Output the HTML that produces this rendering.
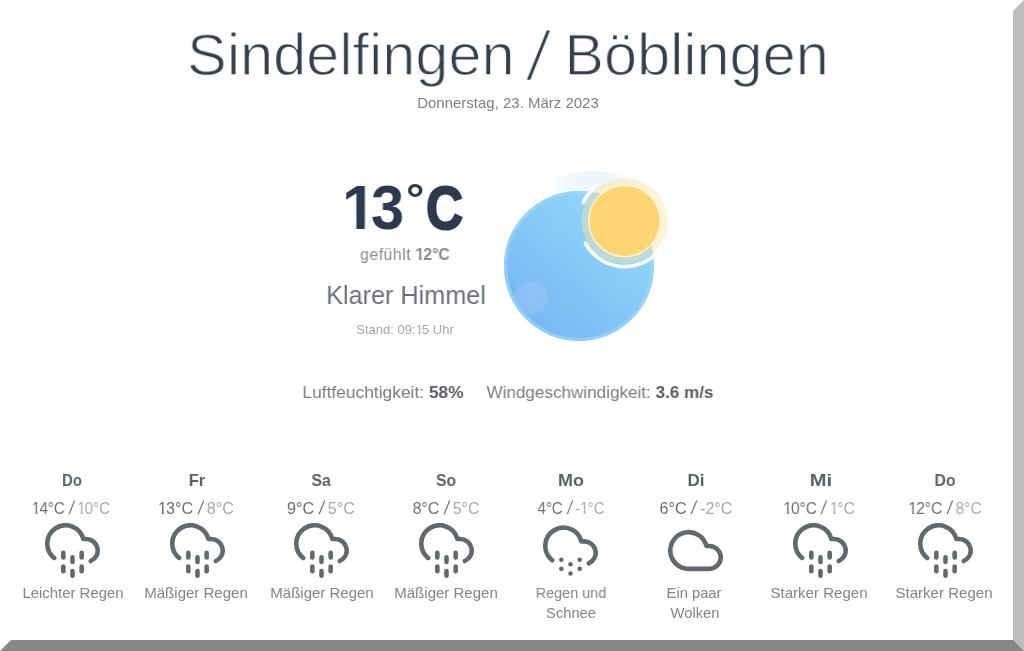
<!DOCTYPE html>
<html lang="de">
<head>
<meta charset="utf-8">
<title>Wetter Sindelfingen / Böblingen</title>
<style>
html,body{margin:0;padding:0;background:#fff;}
body{width:1024px;height:651px;position:relative;overflow:hidden;font-family:"Liberation Sans",Arial,sans-serif;}
.frame{position:absolute;left:0;top:0;width:1024px;height:651px;box-sizing:border-box;border-style:solid;border-width:11px;border-color:#fff #bdbdbd #878787 #fff;}
.t{will-change:transform;position:absolute;white-space:nowrap;text-align:center;line-height:1;width:700px;transform-origin:50% 50%;}
.title{color:#333e4f;-webkit-text-stroke:1.3px #fff;}
.sl{display:inline-block;transform-origin:50% 23px;transform:scaleY(1.16) skewX(-11deg);}
.tmp .sl{transform-origin:50% 10.4px;transform:scaleY(1.16) skewX(-11.6deg);}
.date{color:#808080;}
.bigg{position:absolute;white-space:nowrap;line-height:1;font-weight:bold;color:#2c3a4f;transform-origin:0 0;will-change:transform;}
.feel{color:#8a8a8a;}
.cond{color:#6b7079;}
.stand{color:#a8a8a8;}
.hum{color:#777c83;}
.hum b{color:#585d65;}
.day{font-weight:bold;color:#5b6068;}
.tmp{color:#6d6d6d;}
.tmp .lo{color:#a8a8a8;}
.desc{color:#848484;}
.n1{letter-spacing:-1.0px;display:inline-block;}
.tmp .n1{clip-path:polygon(0 0,100% 0,100% 11px,5.75px 11px,5.75px 100%,3.7px 100%,3.7px 11px,0 11px);}
.stand .n1{clip-path:polygon(0 0,100% 0,100% 10px,4.7px 10px,4.7px 100%,3.0px 100%,3.0px 10px,0 10px);}
.feel .n1{clip-path:polygon(0 0,100% 0,100% 11px,6.2px 11px,6.2px 100%,3.45px 100%,3.45px 11px,0 11px);}
.ic{position:absolute;fill:none;stroke:#63686f;stroke-linecap:round;stroke-linejoin:round;}
</style>
</head>
<body>
<div class="frame"></div>
<div class="t title" style="left:157.90px;top:22.00px;font-size:63.4px;transform:scale(0.9386,0.9400);transform-origin:50% 53px;">Sindelfingen <span class="sl">/</span> Böblingen</div>
<div class="t date" style="left:157.70px;top:96.00px;font-size:14.5px;transform:scaleX(1.0334);">Donnerstag, 23. März 2023</div>
<div class="bigg" style="left:341.69px;top:176.00px;font-size:63.20px;transform:scaleX(0.9740);clip-path:polygon(0px 0px,37.03px 0px,37.03px 46px,23.42px 46px,23.42px 63.20px,14.75px 63.20px,14.75px 46px,0px 46px);">1</div><div class="bigg" style="left:371.13px;top:176.00px;font-size:63.00px;transform:scaleX(0.9460);">3</div><div class="bigg" style="left:405.98px;top:178.00px;font-size:42.60px;transform:scaleX(1.0800);">°</div><div class="bigg" style="left:425.50px;top:178.00px;font-size:60.30px;transform:scaleX(0.8500);-webkit-text-stroke:2px #2c3a4f;">C</div>
<div class="t feel" style="left:54.50px;top:247.00px;font-size:16.0px;transform:scaleX(0.9880);"><span style="letter-spacing:0.5px">gefühlt</span> <b><span class="n1">1</span>2°C</b></div>
<div class="t cond" style="left:55.60px;top:282.00px;font-size:26.0px;transform:scaleX(0.9703);">Klarer Himmel</div>
<div class="t stand" style="left:54.80px;top:323.00px;font-size:13.0px;transform:scaleX(1.0028);">Stand: 09:<span class="n1">1</span>5 Uhr</div>
<svg style="position:absolute;left:490px;top:160px;" width="190" height="190" viewBox="490 160 190 190">
  <defs>
    <linearGradient id="bg" x1="0.15" y1="0.9" x2="0.85" y2="0.1">
      <stop offset="0" stop-color="#78b5f4"/>
      <stop offset="0.5" stop-color="#86c8f7"/>
      <stop offset="1" stop-color="#95dafa"/>
    </linearGradient>
    <radialGradient id="glow" cx="0.5" cy="0.5" r="0.5">
      <stop offset="0" stop-color="#aac8f8" stop-opacity="0.42"/>
      <stop offset="0.85" stop-color="#aac8f8" stop-opacity="0.36"/>
      <stop offset="1" stop-color="#aac8f8" stop-opacity="0"/>
    </radialGradient>
    <radialGradient id="haze" gradientUnits="userSpaceOnUse" cx="594" cy="177" r="46">
      <stop offset="0" stop-color="#ecf6fc" stop-opacity="1"/>
      <stop offset="0.6" stop-color="#ecf6fc" stop-opacity="0.7"/>
      <stop offset="1" stop-color="#ecf6fc" stop-opacity="0"/>
    </radialGradient>
  </defs>
  <circle cx="592" cy="268" r="97" fill="url(#haze)"/>
  <circle cx="579" cy="266" r="75" fill="url(#bg)"/>
  <circle cx="579" cy="266" r="73.4" fill="none" stroke="#98d8fa" stroke-width="3.2" opacity="0.7"/>
  <circle cx="531" cy="298" r="18" fill="url(#glow)"/>
  <circle cx="624.5" cy="221" r="43" fill="#f6e6a8" opacity="0.45"/>
  <path d="M 583.3 202.6 A 45 45 0 0 1 593.2 188.6" fill="none" stroke="#fff" stroke-width="3.6" stroke-linecap="round" opacity="0.92"/>
  <path d="M 585.5 243.5 A 45 45 0 0 0 658 252" fill="none" stroke="#fff" stroke-width="3.8" stroke-linecap="round" opacity="0.92"/>
  <circle cx="624.5" cy="221" r="36.5" fill="#fff4d2"/>
  <circle cx="624.5" cy="221" r="35" fill="#fdd673"/>
</svg>
<div class="t hum" style="left:33.10px;top:384.00px;font-size:17.4px;transform:scaleX(0.9978);">Luftfeuchtigkeit: <b>58%</b></div>
<div class="t hum" style="left:249.50px;top:384.00px;font-size:17.4px;transform:scaleX(0.9829);">Windgeschwindigkeit: <b>3.6 m/s</b></div>
<div class="t day" style="left:-277.55px;top:472.00px;font-size:16.5px;transform:scaleX(0.8985);">Do</div>
<div class="t tmp" style="left:-278.70px;top:501.00px;font-size:16.0px;transform:scaleX(0.9393);"><span class="n1">1</span>4°C <span class="sl">/</span> <span class="lo"><span class="n1">1</span>0°C</span></div>
<svg class="ic" style="left:44.90px;top:523.10px;" width="55.0" height="55.0" viewBox="0 0 24 24" stroke-width="2.0"><line x1="8" y1="19" x2="8" y2="21"/><line x1="8" y1="13" x2="8" y2="15"/><line x1="16" y1="19" x2="16" y2="21"/><line x1="16" y1="13" x2="16" y2="15"/><line x1="12" y1="21" x2="12" y2="23"/><line x1="12" y1="15" x2="12" y2="17"/><path d="M20 16.58A5 5 0 0 0 18 7h-1.26A8 8 0 1 0 4 15.25"/></svg>
<div class="t desc" style="left:-277.45px;top:586.00px;font-size:14.5px;transform:scaleX(1.0274);">Leichter Regen</div>
<div class="t day" style="left:-152.60px;top:472.00px;font-size:16.5px;transform:scaleX(1.0097);">Fr</div>
<div class="t tmp" style="left:-154.10px;top:501.00px;font-size:16.0px;transform:scaleX(1.0109);"><span class="n1">1</span>3°C <span class="sl">/</span> <span class="lo">8°C</span></div>
<svg class="ic" style="left:169.50px;top:523.10px;" width="55.0" height="55.0" viewBox="0 0 24 24" stroke-width="2.0"><line x1="8" y1="19" x2="8" y2="21"/><line x1="8" y1="13" x2="8" y2="15"/><line x1="16" y1="19" x2="16" y2="21"/><line x1="16" y1="13" x2="16" y2="15"/><line x1="12" y1="21" x2="12" y2="23"/><line x1="12" y1="15" x2="12" y2="17"/><path d="M20 16.58A5 5 0 0 0 18 7h-1.26A8 8 0 1 0 4 15.25"/></svg>
<div class="t desc" style="left:-153.95px;top:586.00px;font-size:14.5px;transform:scaleX(1.0353);">Mäßiger Regen</div>
<div class="t day" style="left:-28.60px;top:472.00px;font-size:16.5px;transform:scaleX(0.9582);">Sa</div>
<div class="t tmp" style="left:-28.95px;top:501.00px;font-size:16.0px;transform:scaleX(1.0124);">9°C <span class="sl">/</span> <span class="lo">5°C</span></div>
<svg class="ic" style="left:294.10px;top:523.10px;" width="55.0" height="55.0" viewBox="0 0 24 24" stroke-width="2.0"><line x1="8" y1="19" x2="8" y2="21"/><line x1="8" y1="13" x2="8" y2="15"/><line x1="16" y1="19" x2="16" y2="21"/><line x1="16" y1="13" x2="16" y2="15"/><line x1="12" y1="21" x2="12" y2="23"/><line x1="12" y1="15" x2="12" y2="17"/><path d="M20 16.58A5 5 0 0 0 18 7h-1.26A8 8 0 1 0 4 15.25"/></svg>
<div class="t desc" style="left:-28.40px;top:586.00px;font-size:14.5px;transform:scaleX(1.0349);">Mäßiger Regen</div>
<div class="t day" style="left:96.45px;top:472.00px;font-size:16.5px;transform:scaleX(0.9492);">So</div>
<div class="t tmp" style="left:96.05px;top:501.00px;font-size:16.0px;transform:scaleX(0.9946);">8°C <span class="sl">/</span> <span class="lo">5°C</span></div>
<svg class="ic" style="left:418.70px;top:523.10px;" width="55.0" height="55.0" viewBox="0 0 24 24" stroke-width="2.0"><line x1="8" y1="19" x2="8" y2="21"/><line x1="8" y1="13" x2="8" y2="15"/><line x1="16" y1="19" x2="16" y2="21"/><line x1="16" y1="13" x2="16" y2="15"/><line x1="12" y1="21" x2="12" y2="23"/><line x1="12" y1="15" x2="12" y2="17"/><path d="M20 16.58A5 5 0 0 0 18 7h-1.26A8 8 0 1 0 4 15.25"/></svg>
<div class="t desc" style="left:95.85px;top:586.00px;font-size:14.5px;transform:scaleX(1.0353);">Mäßiger Regen</div>
<div class="t day" style="left:220.50px;top:472.00px;font-size:16.5px;transform:scaleX(1.0881);">Mo</div>
<div class="t tmp" style="left:221.25px;top:501.00px;font-size:16.0px;transform:scaleX(0.9365);">4°C <span class="sl">/</span> <span class="lo">-<span class="n1">1</span>°C</span></div>
<svg class="ic" style="left:543.30px;top:523.10px;" width="55.0" height="55.0" viewBox="0 0 24 24" stroke-width="2.0"><path d="M20 17.58A5 5 0 0 0 18 8h-1.26A8 8 0 1 0 4 16.25"/><line x1="8" y1="16" x2="8.01" y2="16"/><line x1="8" y1="20" x2="8.01" y2="20"/><line x1="12" y1="18" x2="12.01" y2="18"/><line x1="12" y1="22" x2="12.01" y2="22"/><line x1="16" y1="16" x2="16.01" y2="16"/><line x1="16" y1="20" x2="16.01" y2="20"/></svg>
<div class="t desc" style="left:220.70px;top:586.00px;font-size:14.5px;transform:scaleX(0.9918);">Regen und</div>
<div class="t desc" style="left:221.00px;top:606.00px;font-size:14.5px;transform:scaleX(1.0118);">Schnee</div>
<div class="t day" style="left:346.10px;top:472.00px;font-size:16.5px;transform:scaleX(1.0332);">Di</div>
<div class="t tmp" style="left:345.75px;top:501.00px;font-size:16.0px;transform:scaleX(1.0062);">6°C <span class="sl">/</span> <span class="lo">-2°C</span></div>
<svg class="ic" style="left:668.20px;top:523.10px;" width="55.0" height="55.0" viewBox="0 0 24 24" stroke-width="2.0"><path d="M18 10h-1.26A8 8 0 1 0 9 20h9a5 5 0 0 0 0-10z"/></svg>
<div class="t desc" style="left:344.45px;top:586.00px;font-size:14.5px;transform:scaleX(1.0154);">Ein paar</div>
<div class="t desc" style="left:345.45px;top:606.00px;font-size:14.5px;transform:scaleX(1.0189);">Wolken</div>
<div class="t day" style="left:470.85px;top:472.00px;font-size:16.5px;transform:scaleX(1.2159);">Mi</div>
<div class="t tmp" style="left:469.00px;top:501.00px;font-size:16.0px;transform:scaleX(0.9651);"><span class="n1">1</span>0°C <span class="sl">/</span> <span class="lo"><span class="n1">1</span>°C</span></div>
<svg class="ic" style="left:793.00px;top:523.10px;" width="55.0" height="55.0" viewBox="0 0 24 24" stroke-width="2.0"><line x1="8" y1="19" x2="8" y2="21"/><line x1="8" y1="13" x2="8" y2="15"/><line x1="16" y1="19" x2="16" y2="21"/><line x1="16" y1="13" x2="16" y2="15"/><line x1="12" y1="21" x2="12" y2="23"/><line x1="12" y1="15" x2="12" y2="17"/><path d="M20 16.58A5 5 0 0 0 18 7h-1.26A8 8 0 1 0 4 15.25"/></svg>
<div class="t desc" style="left:469.45px;top:586.00px;font-size:14.5px;transform:scaleX(1.0395);">Starker Regen</div>
<div class="t day" style="left:595.30px;top:472.00px;font-size:16.5px;transform:scaleX(0.9532);">Do</div>
<div class="t tmp" style="left:594.50px;top:501.00px;font-size:16.0px;transform:scaleX(0.9777);"><span class="n1">1</span>2°C <span class="sl">/</span> <span class="lo">8°C</span></div>
<svg class="ic" style="left:917.50px;top:523.10px;" width="55.0" height="55.0" viewBox="0 0 24 24" stroke-width="2.0"><line x1="8" y1="19" x2="8" y2="21"/><line x1="8" y1="13" x2="8" y2="15"/><line x1="16" y1="19" x2="16" y2="21"/><line x1="16" y1="13" x2="16" y2="15"/><line x1="12" y1="21" x2="12" y2="23"/><line x1="12" y1="15" x2="12" y2="17"/><path d="M20 16.58A5 5 0 0 0 18 7h-1.26A8 8 0 1 0 4 15.25"/></svg>
<div class="t desc" style="left:593.95px;top:586.00px;font-size:14.5px;transform:scaleX(1.0395);">Starker Regen</div>
</body>
</html>
